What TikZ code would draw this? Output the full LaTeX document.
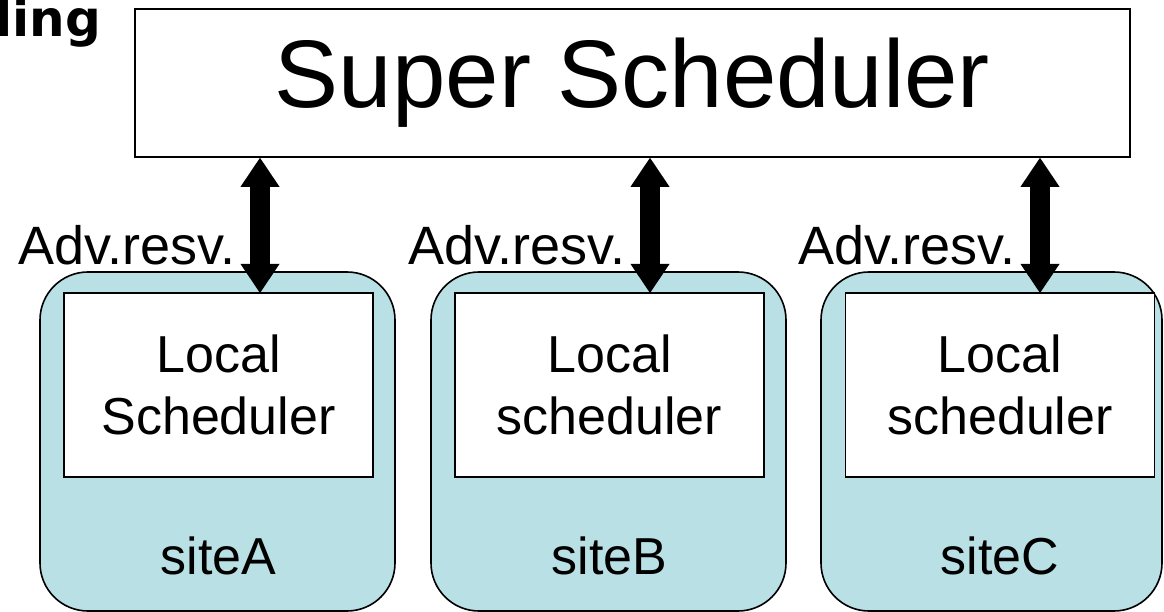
\documentclass[tikz,border=0pt]{standalone}
\usepackage{fontspec}
\setmainfont{Liberation Sans}
\newfontfamily\headfont{DejaVu Sans}
\usetikzlibrary{arrows.meta}
\definecolor{sitecyan}{RGB}{185,224,228}

\begin{document}
\begin{tikzpicture}[x=1pt, y=-1pt,
    box/.style={draw, line width=1.6pt, fill=white, inner sep=0pt},
    sitebox/.style={draw, line width=1.6pt, fill=sitecyan, rounded corners=48pt, minimum height=339pt},
    localbox/.style={box, minimum width=309pt, minimum height=184pt, align=center, font=\fontsize{52}{62}\selectfont},
    sitename/.style={inner sep=0pt, font=\fontsize{52}{62}\selectfont},
    resvtext/.style={inner sep=0pt, anchor=base east, font=\fontsize{54}{62}\selectfont},
    resvarrow/.style={line width=20pt, >={Triangle[width=39pt, length=29pt, line width=0pt]}, <->}]
    \useasboundingbox (0,0) rectangle (1164,612);

    % Title, cut at the edge
    \node[inner sep=0pt, anchor=base west, font=\headfont\bfseries\fontsize{50}{56}\selectfont] (title) at (-5,37) {ling};

    % Global scheduler
    \node[box, minimum width=995pt, minimum height=148pt, font=\fontsize{96}{115}\selectfont] (super) at (632.5,83) {Super Scheduler};

    % Sites
    \node[sitebox, minimum width=355pt] (siteA) at (217.5,441.5) {};
    \node[sitebox, minimum width=355pt] (siteB) at (608.5,441.5) {};
    \node[sitebox, minimum width=341pt] (siteC) at (991.5,441.5) {};

    % Local schedulers
    \node[localbox] (localA) at (218.5,385) {Local\\Scheduler};
    \node[localbox] (localB) at (609.5,385) {Local\\scheduler};
    \node[localbox] (localC) at (1000,385) {Local\\scheduler};

    \node[sitename] (nameA) at (218.5,556) {siteA};
    \node[sitename] (nameB) at (609.5,556) {siteB};
    \node[sitename] (nameC) at (1000,556) {siteC};

    % Advance reservation links
    \coordinate (resvA) at (260,293);
    \coordinate (resvB) at (650,293);
    \coordinate (resvC) at (1040,293);
    \draw[resvarrow] (resvA |- super.south) -- (resvA);
    \draw[resvarrow] (resvB |- super.south) -- (resvB);
    \draw[resvarrow] (resvC |- super.south) -- (resvC);

    \node[resvtext] (advA) at (236,265) {Adv.resv.};
    \node[resvtext] (advB) at (626,265) {Adv.resv.};
    \node[resvtext] (advC) at (1016,265) {Adv.resv.};
\end{tikzpicture}
\end{document}
